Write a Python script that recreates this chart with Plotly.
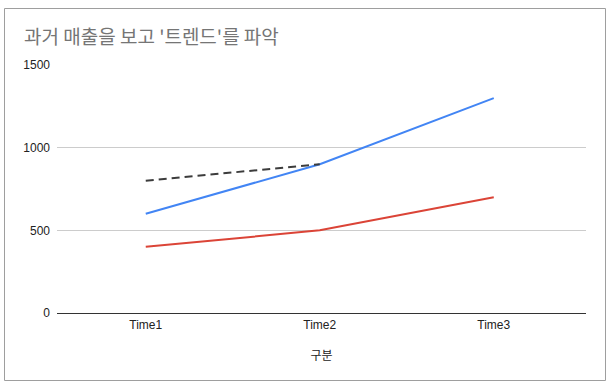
import plotly.graph_objects as go

categories = ["Time1", "Time2", "Time3"]
blue_vals = [600, 900, 1300]
red_vals = [400, 500, 700]
trend_vals = [800, 900, None]
y_ticks = [0, 500, 1000, 1500]

xs = [0, 1, 2]
fig = go.Figure()
fig.add_trace(go.Scatter(x=xs, y=red_vals, mode="lines",
                         line=dict(color="#DB4437", width=2), showlegend=False))
fig.add_trace(go.Scatter(x=xs, y=blue_vals, mode="lines",
                         line=dict(color="#4285F4", width=2), showlegend=False))
fig.add_trace(go.Scatter(x=xs, y=trend_vals, mode="lines",
                         line=dict(color="#3c3c3c", width=2, dash="8px,5px"), showlegend=False))

L, R, T, B = 57, 30, 65, 77
W, H = 616, 390
pw, ph = W - L - R, H - T - B

def px(x):
    return (x - L) / pw

def py(y):
    return (H - B - y) / ph

fig.update_layout(
    width=W, height=H,
    margin=dict(l=L, r=R, t=T, b=B),
    paper_bgcolor="white", plot_bgcolor="white",
    font=dict(family="Liberation Sans, Arial, sans-serif", size=12, color="#222"),
    title=dict(text="과거 매출을 보고 '트렌드'를 파악", x=24 / W, xanchor="left",
               y=1 - 37 / H, yanchor="middle",
               font=dict(family="Noto Sans CJK KR, sans-serif", size=19, color="#757575")),
    xaxis=dict(range=[-0.51, 2.53], tickvals=xs, ticktext=categories,
               showgrid=False, zeroline=False, showline=False, ticks="",
               ticklabelstandoff=3,
               tickfont=dict(size=12, color="#222"),
               title=dict(text="구분", font=dict(family="Noto Sans CJK KR, sans-serif", size=12, color="#222"),
                          standoff=20)),
    yaxis=dict(range=[0, 1500], tickvals=y_ticks, showgrid=True, gridcolor="#cccccc",
               zeroline=True, zerolinecolor="#333333", zerolinewidth=1,
               showline=False, ticks="", ticklabelstandoff=6,
               tickfont=dict(size=12, color="#222")),
    shapes=[dict(type="rect", xref="paper", yref="paper",
                 x0=px(4.5), x1=px(605.5), y0=py(380.5), y1=py(8.5),
                 line=dict(color="#9e9e9e", width=1), layer="below")],
)

fig.write_html("out.html", config={"displayModeBar": False},
               post_script="document.body.style.margin='0';document.body.style.overflow='hidden';")
